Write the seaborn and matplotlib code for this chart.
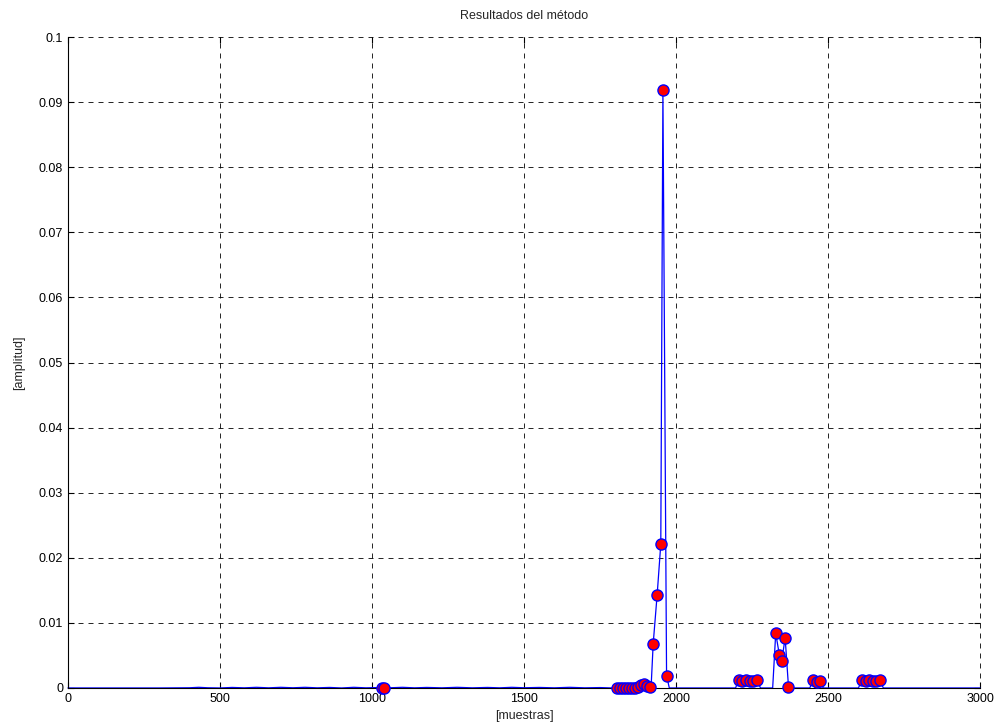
import matplotlib
matplotlib.use("Agg")
import matplotlib.pyplot as plt
import seaborn as sns
import pandas as pd

# ---- data ----
# points marked with red circles (non-zero samples)
marker_x = [1032, 1041,
            1806, 1816, 1826, 1836, 1846, 1856, 1866, 1876, 1886, 1895, 1904, 1913,
            1925, 1938, 1950, 1957, 1969,
            2206, 2218, 2230, 2242, 2254, 2266,
            2328, 2340, 2348, 2359, 2370,
            2452, 2463, 2474,
            2612, 2624, 2636, 2648, 2659, 2670]
marker_y = [0.00005, 0.00005,
            0.0, 0.0, 0.0, 0.00005, 0.0, 0.0, 0.00005, 0.0001, 0.0004, 0.0006, 0.0003, 0.0001,
            0.0068, 0.0143, 0.0221, 0.0918, 0.0019,
            0.0012, 0.0010, 0.0012, 0.0011, 0.0010, 0.0012,
            0.0084, 0.0051, 0.0042, 0.0077, 0.0002,
            0.0012, 0.0009, 0.0011,
            0.0012, 0.0010, 0.0012, 0.0011, 0.0010, 0.0012]

# remaining samples of the blue trace (near-zero baseline)
base_x = [0, 300, 400, 430, 460, 500, 540, 580, 620, 660, 700, 740, 780, 820,
          860, 900, 940, 980, 1010, 1060, 1100, 1140, 1180, 1230, 1280, 1330,
          1380, 1420, 1460, 1500, 1550, 1600, 1650, 1700, 1750, 1790,
          1918, 1978, 2000, 2100, 2196, 2278, 2318, 2380, 2440, 2484,
          2600, 2682, 2800, 3000]
base_y = [0, 0, 0.00003, 0.0001, 0.00003, 0, 0.00008, 0.00002, 0.0001, 0.00002, 0.0001,
          0.00003, 0.0001, 0.00002, 0.00008, 0, 0.0001, 0.00002, 0.00005, 0.00003, 0.0001,
          0.00002, 0.00008, 0.00002, 0.0001, 0.00002, 0.00008, 0.00002, 0.0001, 0.00003,
          0.00008, 0.00002, 0.0001, 0.00002, 0.00006, 0.0,
          0.0, 0.0, 0.0, 0.0, 0.0, 0.0, 0.0, 0.0, 0.0, 0.0,
          0.0, 0.0, 0.0, 0.0]

title = "Resultados del método"
xlabel = "[muestras]"
ylabel = "[amplitud]"
xticks = [0, 500, 1000, 1500, 2000, 2500, 3000]
yticks = [0, 0.01, 0.02, 0.03, 0.04, 0.05, 0.06, 0.07, 0.08, 0.09, 0.1]
ytick_labels = ["0", "0.01", "0.02", "0.03", "0.04", "0.05", "0.06", "0.07", "0.08", "0.09", "0.1"]

# ---- build tables ----
markers = pd.DataFrame({"x": marker_x, "y": marker_y})
trace = pd.concat([markers, pd.DataFrame({"x": base_x, "y": base_y})]).sort_values("x")

sns.set_style("white")
plt.rcParams["font.family"] = ["Liberation Sans", "DejaVu Sans"]

fig = plt.figure(figsize=(9.99, 7.28), dpi=100)
ax = fig.add_axes([0.068, 0.055, 0.913, 0.894])

sns.lineplot(data=trace, x="x", y="y", sort=False, estimator=None,
             color="#0000ff", linewidth=0.9, ax=ax, clip_on=False)
sns.scatterplot(data=markers, x="x", y="y", color="#ff0000", edgecolor="#0000ff",
                linewidth=1.0, s=64, zorder=5, ax=ax, clip_on=False)

ax.set_xlim(0, 3000)
ax.set_ylim(0, 0.1)
ax.set_xticks(xticks)
ax.set_xticklabels([str(t) for t in xticks])
ax.set_yticks(yticks)
ax.set_yticklabels(ytick_labels)
ax.grid(True, color="black", linestyle=(0, (6, 6)), linewidth=0.6, clip_on=False)
for gl in ax.get_xgridlines() + ax.get_ygridlines():
    gl.set_clip_on(False)
ax.set_axisbelow(True)
for side in ["left", "bottom"]:
    ax.spines[side].set_color("black")
    ax.spines[side].set_linewidth(0.8)
for side in ["top", "right"]:
    ax.spines[side].set_visible(False)
ax.tick_params(direction="in", length=4, labelsize=9, colors="black",
               top=True, right=True, bottom=True, left=True)
ax.set_title(title, fontsize=9, pad=13)
ax.set_xlabel(xlabel, fontsize=9, labelpad=4)
ax.set_ylabel(ylabel, fontsize=9, labelpad=10)

fig.savefig("out.png", dpi=100, facecolor="white")
